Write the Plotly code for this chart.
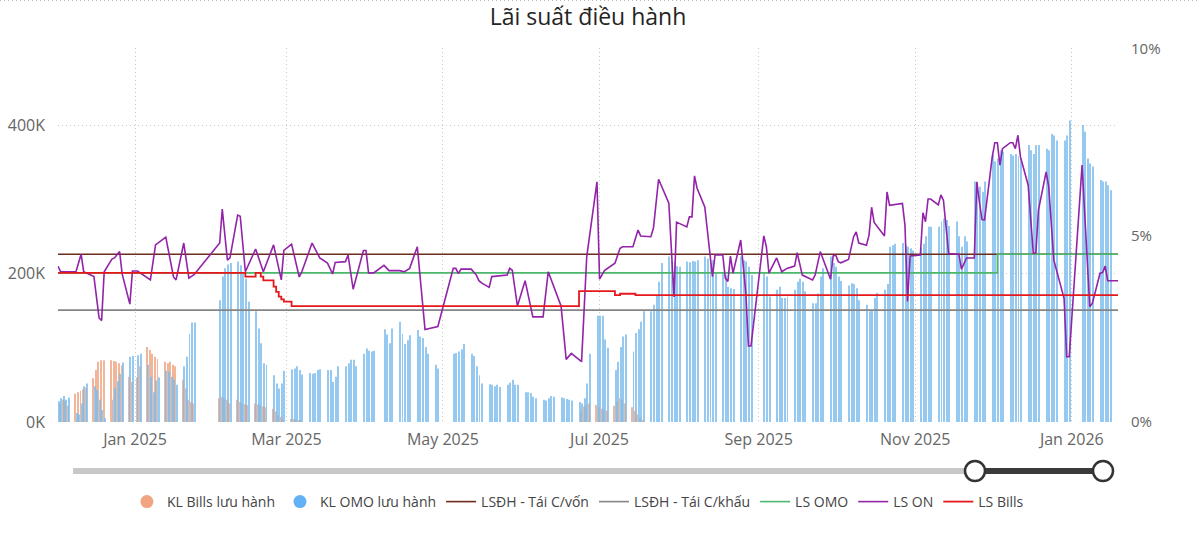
import pandas as pd
import plotly.graph_objects as go

# ---------------- DATA ----------------
title_text = "Lãi suất điều hành"

# Non-trading days (holidays) inside the displayed window
holidays = ["2025-01-01", "2025-01-27", "2025-01-28", "2025-01-29", "2025-01-30",
            "2025-01-31", "2025-04-07", "2025-04-30", "2025-05-01", "2025-05-02",
            "2025-09-01", "2025-09-02", "2026-01-01", "2026-01-02"]
bar_dates = [d for d in pd.bdate_range("2024-12-02", "2026-01-19")
             if d.strftime("%Y-%m-%d") not in holidays]

# KL OMO lưu hành (shown as K), one value per trading day
omo_k = [
    28, 32, 35, 30, 33,        # Dec 2 2024
    12, 10, 25, 48, 52,
    48, 43, 30, 16, 5,
    30, 45, 55, 65, 80,
    88, 89, 90, 92,            # Dec 30 (Jan 1 off)
    77, 61, 40, 56, 60,        # Jan 6 2025
    69, 68, 61, 57, 50,
    75, 88, 119, 134, 134,
    164, 196, 207, 212, 214,   # Feb 3 (after Tet)
    216, 211, 202, 193, 162,
    149, 126, 106, 79, 77,
    63, 52, 45, 52, 69,
    71, 72, 75, 70, 64,        # Mar 3
    66, 65, 66, 70, 71,
    70, 70, 54, 61, 75,
    75, 79, 84, 84, 75,
    92, 99, 96, 95, 96,
    125, 118, 106, 126,        # Apr 8
    135, 119, 105, 110, 117,
    124, 115, 113, 101, 92,
    77, 72,                    # Apr 28-29
    92, 93, 95, 98, 105,       # May 5
    92, 89, 75, 63, 52,
    51, 50, 48, 50, 47,
    50, 53, 57, 50, 50,
    40, 40, 39, 34, 32,        # Jun 2
    30, 29, 32, 35, 34,
    33, 32, 31, 30, 29,
    27, 25, 32, 52, 92,
    143, 143, 143, 111, 100,   # Jun 30
    70, 81, 101, 115, 118,
    95, 120, 125, 135, 149,
    149, 158, 171, 189, 214,
    223, 216, 215, 210, 209,   # Jul 28
    216, 215, 217, 216, 218,
    223, 220, 219, 218, 200,
    200, 198, 182, 180, 179,
    223, 218, 216, 209, 198,
    200, 196, 169,             # Sep 3-5
    178, 182, 167, 167, 169,
    178, 189, 193, 189, 176,
    160, 160, 173, 196, 207,
    223, 214, 209, 196, 190,   # Sep 29
    184, 187, 186, 180, 164,
    158, 149, 151, 167, 174,
    178, 186, 236, 238, 240,
    241, 238, 236, 234, 231,
    234, 240, 250, 263, 263,   # Nov 3
    263, 270, 274, 272, 264,
    270, 250, 236, 250, 243,
    324, 317, 317, 310, 324,
    360, 351, 355, 366, 364,   # Dec 1
    361, 359, 361, 358, 355,
    373, 366, 361, 373, 373,
    368, 366, 388, 386, 379,
    379, 386, 406,             # Dec 29-31
    400, 391, 355, 348, 344,   # Jan 5 2026
    326, 324, 324, 319, 312,
    295,                       # Jan 19
]

# KL Bills lưu hành, only in the two windows where bills were outstanding
bills_dates_1 = [d for d in bar_dates if pd.Timestamp("2024-12-02") <= d <= pd.Timestamp("2025-03-07")]
bills_k_1 = [
    20, 25, 30, 28, 22,
    38, 40, 42, 44, 46,
    59, 70, 81, 83, 83,
    83, 82, 81, 79, 76,
    61, 54, 60, 75,
    101, 97, 92, 88, 85,
    81, 79, 81, 77, 75,
    57, 45, 30, 27, 25,
    32, 34, 32, 30, 25,
    30, 27, 25, 24, 23,
    25, 24, 23, 21, 20,
    18, 14, 9, 7, 3,
    4, 4, 3, 2, 2,
]
bills_dates_2 = [d for d in bar_dates if pd.Timestamp("2025-06-23") <= d <= pd.Timestamp("2025-07-18")]
bills_k_2 = [
    0, 14, 21, 23, 25,
    23, 20, 18, 16, 15,
    22, 28, 32, 30, 25,
    20, 15, 10, 6, 3,
]
bills_dates = bills_dates_1 + bills_dates_2
bills_k = bills_k_1 + bills_k_2

# Policy rates (%)
range_start, range_end = "2024-12-02", "2026-01-19"
refi_rate = [4.5, 4.5]          # LSĐH - Tái C/vốn
discount_rate = [3.0, 3.0]      # LSĐH - Tái C/khấu
omo_rate_dates = ["2024-12-02", "2025-12-03", "2026-01-19"]
omo_rate = [4.0, 4.5, 4.5]
bills_rate_dates = ["2024-12-02", "2025-02-13", "2025-02-17", "2025-02-19", "2025-02-20",
                    "2025-02-24", "2025-02-25", "2025-02-26", "2025-02-27", "2025-02-28",
                    "2025-03-03", "2025-06-23", "2025-07-07", "2025-07-09", "2025-07-15",
                    "2026-01-19"]
bills_rate = [4.0, 3.9, 4.0, 3.9, 3.8, 3.63, 3.49, 3.36, 3.29, 3.23,
              3.11, 3.51, 3.40, 3.44, 3.40, 3.40]

on_dates = [
    "2024-12-02", "2024-12-03", "2024-12-09", "2024-12-11", "2024-12-12", "2024-12-16",
    "2024-12-18", "2024-12-19", "2024-12-20", "2024-12-23", "2024-12-24", "2024-12-26",
    "2024-12-27", "2024-12-30", "2024-12-31", "2025-01-02", "2025-01-07", "2025-01-09",
    "2025-01-13", "2025-01-16", "2025-01-17", "2025-01-20", "2025-01-22", "2025-01-24",
    "2025-02-03", "2025-02-04", "2025-02-06", "2025-02-07", "2025-02-10", "2025-02-11",
    "2025-02-13", "2025-02-17", "2025-02-20", "2025-02-24", "2025-02-27", "2025-02-28",
    "2025-03-03", "2025-03-06", "2025-03-07", "2025-03-11", "2025-03-14", "2025-03-17",
    "2025-03-19", "2025-03-20", "2025-03-24", "2025-03-25", "2025-03-27", "2025-03-31",
    "2025-04-01", "2025-04-02", "2025-04-04", "2025-04-08", "2025-04-10", "2025-04-14",
    "2025-04-16", "2025-04-18", "2025-04-21", "2025-04-24", "2025-04-29", "2025-05-05",
    "2025-05-06", "2025-05-07", "2025-05-08", "2025-05-12", "2025-05-14", "2025-05-15",
    "2025-05-16", "2025-05-19", "2025-05-20", "2025-05-26", "2025-05-27", "2025-05-28",
    "2025-05-30", "2025-06-02", "2025-06-05", "2025-06-09", "2025-06-11", "2025-06-16",
    "2025-06-18", "2025-06-20", "2025-06-24", "2025-06-26", "2025-06-30", "2025-07-01",
    "2025-07-03", "2025-07-07", "2025-07-09", "2025-07-10", "2025-07-14", "2025-07-16",
    "2025-07-17", "2025-07-21", "2025-07-22", "2025-07-24", "2025-07-28", "2025-07-30",
    "2025-07-31", "2025-08-04", "2025-08-05", "2025-08-06", "2025-08-07", "2025-08-08",
    "2025-08-11", "2025-08-14", "2025-08-15", "2025-08-18", "2025-08-19", "2025-08-20",
    "2025-08-21", "2025-08-22", "2025-08-25", "2025-08-27", "2025-08-28", "2025-08-29",
    "2025-09-03", "2025-09-04", "2025-09-05", "2025-09-08", "2025-09-10", "2025-09-12",
    "2025-09-15", "2025-09-16", "2025-09-18", "2025-09-22", "2025-09-23", "2025-09-25",
    "2025-09-29", "2025-09-30", "2025-10-01", "2025-10-02", "2025-10-03", "2025-10-06",
    "2025-10-08", "2025-10-09", "2025-10-10", "2025-10-13", "2025-10-14", "2025-10-15",
    "2025-10-16", "2025-10-20", "2025-10-21", "2025-10-22", "2025-10-27", "2025-10-28",
    "2025-10-29", "2025-10-30", "2025-11-03", "2025-11-04", "2025-11-05", "2025-11-06",
    "2025-11-07", "2025-11-10", "2025-11-11", "2025-11-12", "2025-11-14", "2025-11-18",
    "2025-11-19", "2025-11-21", "2025-11-24", "2025-11-25", "2025-11-26", "2025-11-27",
    "2025-11-28", "2025-12-01", "2025-12-02", "2025-12-03", "2025-12-04", "2025-12-05",
    "2025-12-08", "2025-12-09", "2025-12-10", "2025-12-11", "2025-12-12", "2025-12-15",
    "2025-12-17", "2025-12-18", "2025-12-19", "2025-12-22", "2025-12-23", "2025-12-25",
    "2025-12-29", "2025-12-30", "2025-12-31", "2026-01-05", "2026-01-08", "2026-01-09",
    "2026-01-12", "2026-01-13", "2026-01-14", "2026-01-15", "2026-01-19",
]
on_rate = [
    4.18, 4.03, 4.03, 4.50, 4.03, 3.90,
    2.79, 2.72, 4.03, 4.37, 4.40, 4.57,
    3.97, 3.16, 4.05, 4.05, 3.81, 4.75,
    4.96, 3.89, 3.81, 4.80, 3.86, 3.95,
    4.80, 5.71, 4.34, 4.40, 5.55, 5.52,
    4.03, 4.64, 4.03, 4.75, 3.81, 4.60,
    4.77, 3.89, 4.03, 4.80, 4.40, 4.26,
    3.97, 4.28, 4.30, 4.48, 3.56, 4.60,
    4.60, 4.00, 4.00, 4.20, 4.06, 4.06,
    4.03, 4.12, 4.70, 2.48, 2.56, 4.12,
    4.12, 3.98, 4.10, 4.10, 3.94, 3.79,
    3.73, 3.61, 3.90, 3.94, 4.12, 4.07,
    3.11, 3.79, 2.82, 2.82, 4.03, 3.11,
    1.68, 1.84, 1.62, 4.43, 6.44, 3.83,
    4.07, 4.26, 4.66, 4.70, 4.70, 5.15,
    4.99, 4.97, 5.20, 6.51, 5.87, 3.35,
    5.36, 5.23, 5.50, 5.50, 6.60, 6.27,
    5.77, 3.90, 4.48, 4.48, 3.86, 3.77,
    4.45, 3.99, 4.88, 3.46, 2.04, 2.04,
    4.99, 4.70, 3.99, 4.40, 4.03, 4.12,
    4.18, 4.54, 3.94, 3.81, 3.94, 4.57,
    3.83, 4.45, 4.48, 4.30, 4.27, 4.36,
    4.97, 5.10, 4.80, 4.74, 5.01, 5.76,
    5.35, 4.99, 6.17, 5.81, 5.86, 5.28,
    3.23, 4.45, 4.48, 5.61, 5.37, 5.98,
    5.98, 5.82, 6.09, 5.94, 4.52, 4.50,
    4.10, 4.40, 4.40, 6.44, 5.90, 5.43,
    5.42, 7.11, 7.49, 7.49, 6.89, 7.33,
    7.49, 7.49, 7.33, 7.69, 7.11, 6.35,
    4.52, 4.54, 5.68, 6.71, 6.31, 4.34,
    3.31, 1.75, 1.75, 6.89, 3.09, 3.18,
    3.99, 4.01, 4.18, 3.79, 3.79,
]

left_ticks = [0, 200, 400]
left_tick_text = ["0K", "200K", "400K"]
right_ticks = [0, 5, 10]
right_tick_text = ["0%", "5%", "10%"]

# ---------------- STYLE ----------------
C_BILLS = "#f0ad8e"
C_OMO_BAR = "#7dbcec"
C_REFI = "#6b2c1c"
C_DISC = "#858585"
C_OMO = "#4cb86c"
C_ON = "#9323a8"
C_BILLSR = "#e5191c"
FONT = "Open Sans"
DAY_MS = 86400000
GRID = "#c8c8c8"
GRID_DASH = "1px,3px"

fig = go.Figure()

fig.add_trace(go.Bar(x=bills_dates, y=bills_k, marker=dict(color=C_BILLS, line_width=0),
                     width=0.38 * DAY_MS, offset=-0.42 * DAY_MS, opacity=0.9,
                     showlegend=False, name="KL Bills lưu hành"))
fig.add_trace(go.Bar(x=bar_dates, y=omo_k, marker=dict(color=C_OMO_BAR, line_width=0),
                     width=0.38 * DAY_MS, offset=0.04 * DAY_MS, opacity=0.8,
                     showlegend=False, name="KL OMO lưu hành"))

# legend-only markers (circles) for the bar series
fig.add_trace(go.Scatter(x=[None], y=[None], mode="markers", name="KL Bills lưu hành",
                         marker=dict(size=13, color="#f0a482")))
fig.add_trace(go.Scatter(x=[None], y=[None], mode="markers", name="KL OMO lưu hành",
                         marker=dict(size=13, color="#62b1f5")))

fig.add_trace(go.Scatter(x=[range_start, range_end], y=refi_rate, yaxis="y2", mode="lines",
                         line=dict(color=C_REFI, width=1.6), name="LSĐH - Tái C/vốn"))
fig.add_trace(go.Scatter(x=[range_start, range_end], y=discount_rate, yaxis="y2", mode="lines",
                         line=dict(color=C_DISC, width=1.6), name="LSĐH - Tái C/khấu"))
fig.add_trace(go.Scatter(x=omo_rate_dates, y=omo_rate, yaxis="y2", mode="lines",
                         line=dict(color=C_OMO, width=1.6, shape="hv"), name="LS OMO"))
fig.add_trace(go.Scatter(x=on_dates, y=on_rate, yaxis="y2", mode="lines",
                         line=dict(color=C_ON, width=1.6), name="LS ON"))
fig.add_trace(go.Scatter(x=bills_rate_dates, y=bills_rate, yaxis="y2", mode="lines",
                         line=dict(color=C_BILLSR, width=1.8, shape="hv"), name="LS Bills"))

# geometry helpers (plot area: x 58..1118 px, y 48..422 px)
def px_x(p):
    return (p - 58) / 1060.0

def px_y(p):
    return (422 - p) / 374.0

shapes = [
    # dotted border at top of visual
    dict(type="line", xref="paper", yref="paper", x0=px_x(0), x1=px_x(1200),
         y0=px_y(0.5), y1=px_y(0.5), line=dict(color="#b8b8b8", width=1, dash="1px,3px")),
    # date range slicer
    dict(type="line", xref="paper", yref="paper", x0=px_x(73), x1=px_x(1105),
         y0=px_y(471), y1=px_y(471), line=dict(color="#c8c8c8", width=6)),
    dict(type="line", xref="paper", yref="paper", x0=px_x(975), x1=px_x(1103),
         y0=px_y(471), y1=px_y(471), line=dict(color="#3a3a3a", width=6)),
]
for cx in (975, 1103):
    shapes.append(dict(type="circle", xref="paper", yref="paper",
                       x0=px_x(cx - 10), x1=px_x(cx + 10), y0=px_y(481), y1=px_y(461),
                       fillcolor="white", line=dict(color="#333333", width=2.5)))

fig.update_layout(
    width=1200, height=534,
    margin=dict(l=58, r=82, t=48, b=112, autoexpand=False),
    paper_bgcolor="white", plot_bgcolor="white",
    font=dict(family=FONT, color="#666666"),
    title=dict(text=title_text, x=0.49, xanchor="center", y=1 - 17 / 534, yanchor="middle",
               font=dict(family=FONT, size=23, color="#252423")),
    barmode="overlay",
    showlegend=True,
    legend=dict(orientation="h", x=0.4905, xanchor="center", y=px_y(486), yanchor="top",
                font=dict(family=FONT, size=14, color="#444444"),
                itemwidth=30, tracegroupgap=0, traceorder="normal"),
    xaxis=dict(type="date", range=[range_start, range_end], tickformat="%b %Y",
               dtick="M2", tick0="2025-01-01", showgrid=True, gridcolor=GRID,
               griddash=GRID_DASH, gridwidth=1, showline=False, zeroline=False, ticks="",
               automargin=False,
               ticklabelstandoff=6, tickfont=dict(size=16, color="#666666")),
    yaxis=dict(range=[0, 503.7], tickvals=left_ticks, ticktext=left_tick_text,
               showgrid=True, gridcolor=GRID, griddash=GRID_DASH, gridwidth=1,
               zeroline=False, showline=False, ticks="", ticklabelstandoff=12,
               automargin=False, tickfont=dict(size=16, color="#666666")),
    yaxis2=dict(range=[0, 10.03], overlaying="y", side="right", tickvals=right_ticks,
                ticktext=right_tick_text, showgrid=False, zeroline=False, showline=False,
                automargin=False,
                ticks="", ticklabelstandoff=12, tickfont=dict(size=15, color="#666666")),
    shapes=shapes,
)

fig.write_html("out.html")
